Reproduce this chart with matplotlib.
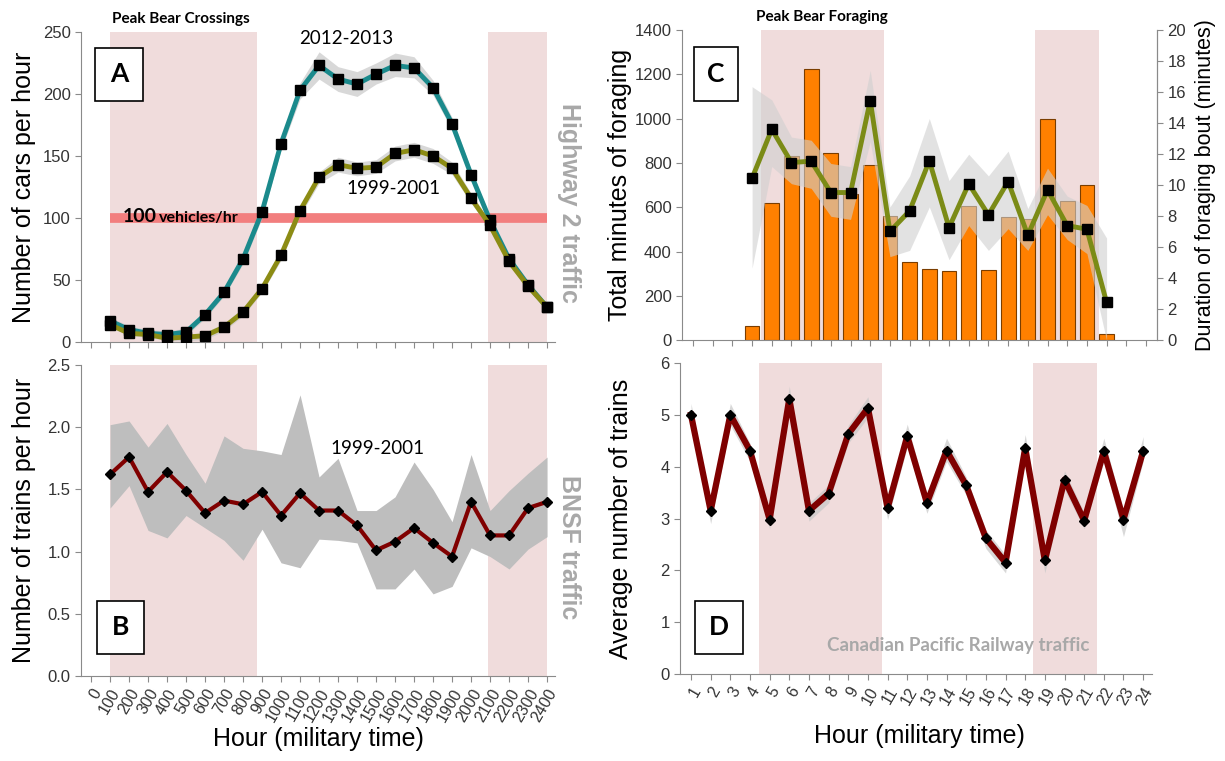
import numpy as np
import matplotlib.pyplot as plt
from matplotlib.patches import Rectangle

plt.rcParams['font.family'] = ['Liberation Sans', 'DejaVu Sans']

# ---- data ----
hours = [100, 200, 300, 400, 500, 600, 700, 800, 900, 1000, 1100, 1200,
         1300, 1400, 1500, 1600, 1700, 1800, 1900, 2000, 2100, 2200, 2300, 2400]
hour_labels = ['0'] + [str(h) for h in hours]

cars_2012 = [17, 10, 7, 6, 8, 22, 40, 67, 105, 160, 203, 223,
             212, 208, 216, 223, 221, 205, 176, 135, 98, 67, 46, 28]
cars_2012_hi = [20, 13, 10, 9, 11, 25, 43, 71, 109, 165, 209, 234,
                222, 218, 225, 233, 230, 211, 181, 139, 101, 70, 49, 31]
cars_2012_lo = [14, 7, 4, 3, 5, 19, 37, 63, 100, 155, 196, 212,
                202, 198, 208, 214, 213, 199, 171, 131, 94, 64, 42, 25]
cars_1999 = [14, 7, 6, 3, 4, 5, 12, 24, 43, 70, 106, 133,
             143, 140, 141, 152, 155, 150, 140, 116, 94, 65, 45, 28]
cars_1999_hi = [17, 10, 9, 6, 6, 8, 15, 28, 47, 74, 110, 137,
                149, 145, 147, 158, 161, 156, 145, 120, 97, 68, 48, 31]
cars_1999_lo = [12, 5, 4, 1, 1, 2, 9, 21, 40, 66, 102, 128,
                137, 134, 136, 146, 149, 144, 135, 112, 91, 62, 42, 26]
threshold = 100

bnsf = [1.62, 1.76, 1.48, 1.64, 1.49, 1.31, 1.41, 1.38, 1.48, 1.29, 1.47, 1.33,
        1.33, 1.21, 1.01, 1.08, 1.19, 1.07, 0.96, 1.40, 1.13, 1.13, 1.35, 1.40]
bnsf_hi = [2.02, 2.05, 1.84, 2.03, 1.78, 1.55, 1.93, 1.83, 1.81, 1.78, 2.26, 1.60,
           1.75, 1.33, 1.33, 1.44, 1.72, 1.50, 1.24, 1.78, 1.33, 1.49, 1.63, 1.76]
bnsf_lo = [1.35, 1.53, 1.17, 1.11, 1.29, 1.19, 1.09, 0.93, 1.18, 0.91, 0.87, 1.10,
           1.09, 1.07, 0.70, 0.70, 0.86, 0.66, 0.72, 1.03, 0.96, 0.86, 1.02, 1.12]

hrs = list(range(1, 25))
forage_hrs = list(range(4, 23))
forage_minutes = [67, 619, 832, 1222, 845, 659, 791, 559, 356, 323, 311, 607,
                  318, 556, 547, 1000, 631, 701, 30]
bout_dur = [10.45, 13.6, 11.46, 11.55, 9.53, 9.53, 15.45, 7.02, 8.35, 11.57,
            7.27, 10.09, 8.09, 10.24, 6.78, 9.7, 7.4, 7.17, 2.45]
bout_hi = [16.35, 15.5, 13.1, 12.9, 11.4, 11.2, 17.4, 8.6, 10.6, 14.3,
           10.3, 12.0, 10.6, 12.2, 8.5, 11.1, 9.3, 8.7, 6.6]
bout_lo = [4.66, 11.2, 10.1, 9.8, 8.0, 7.8, 12.8, 5.4, 5.8, 8.6,
           5.2, 7.4, 5.8, 7.2, 5.8, 8.1, 6.5, 5.6, 0.0]

cp_trains = [5.0, 3.15, 5.0, 4.31, 2.98, 5.31, 3.15, 3.48, 4.63, 5.13, 3.2, 4.59,
             3.3, 4.31, 3.64, 2.62, 2.15, 4.36, 2.19, 3.75, 2.96, 4.3, 2.98, 4.3]
cp_hi = [5.22, 3.3, 5.22, 4.45, 3.12, 5.55, 3.3, 3.65, 4.8, 5.35, 3.4, 4.82,
         3.47, 4.55, 3.8, 2.78, 2.3, 4.62, 2.37, 3.92, 3.12, 4.55, 3.15, 4.58]
cp_lo = [4.85, 2.9, 4.8, 4.1, 2.8, 5.1, 2.95, 3.3, 4.45, 4.95, 2.98, 4.38,
         3.1, 4.1, 3.45, 2.42, 1.95, 4.15, 1.95, 3.55, 2.8, 4.1, 2.65, 4.1]

crossing_spans = [(100, 873), (2090, 2400)]
foraging_spans = [(4.45, 10.7), (18.38, 21.63)]

pink = '#f0dcdc'
grey_txt = '#a8a8a8'
axis_grey = '#8a8a8a'
calibri = ['Lato', 'DejaVu Sans']

fig = plt.figure(figsize=(12.25, 7.61), dpi=100)
axA = fig.add_axes([0.0661, 0.5506, 0.387, 0.4074])
axB = fig.add_axes([0.0661, 0.1117, 0.387, 0.4087])
axC = fig.add_axes([0.5567, 0.5526, 0.3878, 0.408])
axD = fig.add_axes([0.5551, 0.1143, 0.3853, 0.4087])
axC2 = axC.twinx()


def style(ax, right=False):
    ax.spines['top'].set_visible(False)
    if not right:
        ax.spines['right'].set_visible(False)
    for s in ax.spines.values():
        s.set_color(axis_grey)
    ax.tick_params(direction='out', length=4, color=axis_grey,
                   labelcolor='#333333', labelsize=12)
    ax.tick_params(axis='x', labelsize=11.5)


def letter_box(ax, x0, y0, x1, y1, letter):
    ax.add_patch(Rectangle((x0, y0), x1 - x0, y1 - y0, transform=ax.transAxes,
                           facecolor='white', edgecolor='black', lw=1.2, zorder=10))
    ax.text((x0 + x1) / 2, (y0 + y1) / 2, letter, transform=ax.transAxes,
            ha='center', va='center', fontsize=19, fontweight='bold',
            family=calibri, zorder=11)


# ---- A: highway traffic ----
for a, b in crossing_spans:
    axA.axvspan(a, b, color=pink, lw=0, zorder=0)
    axB.axvspan(a, b, color=pink, lw=0, zorder=0)

axA.hlines(threshold, hours[0], hours[-1], color='#f27e7e', lw=7, zorder=2)
axA.fill_between(hours, cars_2012_lo, cars_2012_hi, color='#c8c8c8', alpha=0.7, lw=0, zorder=3)
axA.fill_between(hours, cars_1999_lo, cars_1999_hi, color='#c8c8c8', alpha=0.7, lw=0, zorder=3)
axA.plot(hours, cars_2012, color='#1b8a8c', lw=3.5, marker='s', ms=7,
         mfc='black', mec='black', zorder=4)
axA.plot(hours, cars_1999, color='#8c8c14', lw=3.5, marker='s', ms=7,
         mfc='black', mec='black', zorder=4)
axA.text(165, 97, '100', fontsize=14, fontweight='bold', family=calibri,
         va='baseline', zorder=5)
axA.text(355, 97, 'vehicles/hr', fontsize=11.5, fontweight='bold', family=calibri,
         va='baseline', zorder=5)
axA.text(1342, 245, '2012-2013', fontsize=13.5, family=calibri, ha='center', va='center')
axA.text(1593, 124, '1999-2001', fontsize=13.5, family=calibri, ha='center', va='center')
axA.text(475, 1.042, 'Peak Bear Crossings', transform=axA.get_xaxis_transform(),
         fontsize=11, fontweight='bold', family=calibri, ha='center', va='center')
axA.text(1.03, 0.448, 'Highway 2 traffic', transform=axA.transAxes, rotation=-90,
         fontsize=18, fontweight='bold', color=grey_txt, ha='center', va='center')
axA.set_xlim(-53, 2442)
axA.set_ylim(0, 250)
axA.set_xticks([0] + hours)
axA.set_xticklabels([])
axA.set_yticks(range(0, 251, 50))
axA.set_ylabel('Number of cars per hour', fontsize=18)
axA.yaxis.set_label_coords(-0.095, 0.5)
style(axA)
letter_box(axA, 0.030, 0.778, 0.130, 0.949, 'A')

# ---- B: BNSF trains ----
axB.fill_between(hours, bnsf_lo, bnsf_hi, color='#bebebe', lw=0, zorder=2)
axB.plot(hours, bnsf, color='#800000', lw=3, marker='D', ms=5.5,
         mfc='black', mec='black', zorder=4)
axB.text(1505, 1.83, '1999-2001', fontsize=13.5, family=calibri, ha='center', va='center')
axB.text(1.03, 0.415, 'BNSF traffic', transform=axB.transAxes, rotation=-90,
         fontsize=18, fontweight='bold', color=grey_txt, ha='center', va='center')
axB.set_xlim(-53, 2442)
axB.set_ylim(0, 2.5)
axB.set_xticks([0] + hours)
axB.set_xticklabels(hour_labels, rotation=60, ha='right', va='top',
                    rotation_mode='anchor')
axB.set_yticks(np.arange(0, 2.51, 0.5))
axB.set_yticklabels(['%.1f' % v for v in np.arange(0, 2.51, 0.5)])
axB.set_ylabel('Number of trains per hour', fontsize=18)
axB.yaxis.set_label_coords(-0.095, 0.5)
axB.set_xlabel('Hour (military time)', fontsize=18)
axB.xaxis.set_label_coords(0.5, -0.165)
style(axB)
letter_box(axB, 0.033, 0.071, 0.134, 0.241, 'B')

# ---- C: foraging ----
for a, b in foraging_spans:
    axC.axvspan(a, b, color=pink, lw=0, zorder=0)
    axD.axvspan(a, b, color=pink, lw=0, zorder=0)
axC.bar(forage_hrs, forage_minutes, width=0.75, color='#ff8000',
        edgecolor='#7a3d00', lw=0.8, zorder=2)
axC2.fill_between(forage_hrs, bout_lo, bout_hi, color='#d0d0d0', alpha=0.6, lw=0, zorder=2)
axC2.plot(forage_hrs, bout_dur, color='#7b8b16', lw=3.5, marker='s', ms=7,
          mfc='black', mec='black', zorder=4)
axC.text(7.54, 1.042, 'Peak Bear Foraging', transform=axC.get_xaxis_transform(),
         fontsize=11, fontweight='bold', family=calibri, ha='center', va='center')
axC.set_xlim(0.44, 24.56)
axC.set_ylim(0, 1400)
axC.set_xticks(hrs)
axC.set_xticklabels([])
axC.set_yticks(range(0, 1401, 200))
axC2.set_ylim(0, 20)
axC2.set_yticks(range(0, 21, 2))
axC.set_ylabel('Total minutes of foraging', fontsize=18)
axC.yaxis.set_label_coords(-0.105, 0.5)
axC2.set_ylabel('Duration of foraging bout (minutes)', fontsize=15.5)
axC2.yaxis.set_label_coords(1.08, 0.5)
style(axC, right=True)
style(axC2, right=True)
axC2.spines['left'].set_visible(False)
axC2.spines['bottom'].set_visible(False)
letter_box(axC2, 0.025, 0.772, 0.119, 0.946, 'C')

# ---- D: CP trains ----
axD.fill_between(hrs, cp_lo, cp_hi, color='#c8c8c8', alpha=0.7, lw=0, zorder=2)
axD.plot(hrs, cp_trains, color='#7f0000', lw=4.5, marker='D', ms=5.5,
         mfc='black', mec='black', zorder=4)
axD.text(0.59, 0.093, 'Canadian Pacific Railway traffic', transform=axD.transAxes,
         fontsize=13.5, fontweight='bold', family=calibri, color=grey_txt,
         ha='center', va='center')
axD.set_xlim(0.44, 24.45)
axD.set_ylim(0, 6)
axD.set_xticks(hrs)
axD.set_xticklabels([str(h) for h in hrs], rotation=60, ha='right', va='top',
                    rotation_mode='anchor')
axD.set_yticks(range(0, 7))
axD.set_ylabel('Average number of trains', fontsize=18)
axD.yaxis.set_label_coords(-0.1, 0.5)
axD.set_xlabel('Hour (military time)', fontsize=18)
axD.xaxis.set_label_coords(0.508, -0.16)
style(axD)
letter_box(axD, 0.031, 0.064, 0.134, 0.236, 'D')

fig.savefig('out.png', dpi=100)
